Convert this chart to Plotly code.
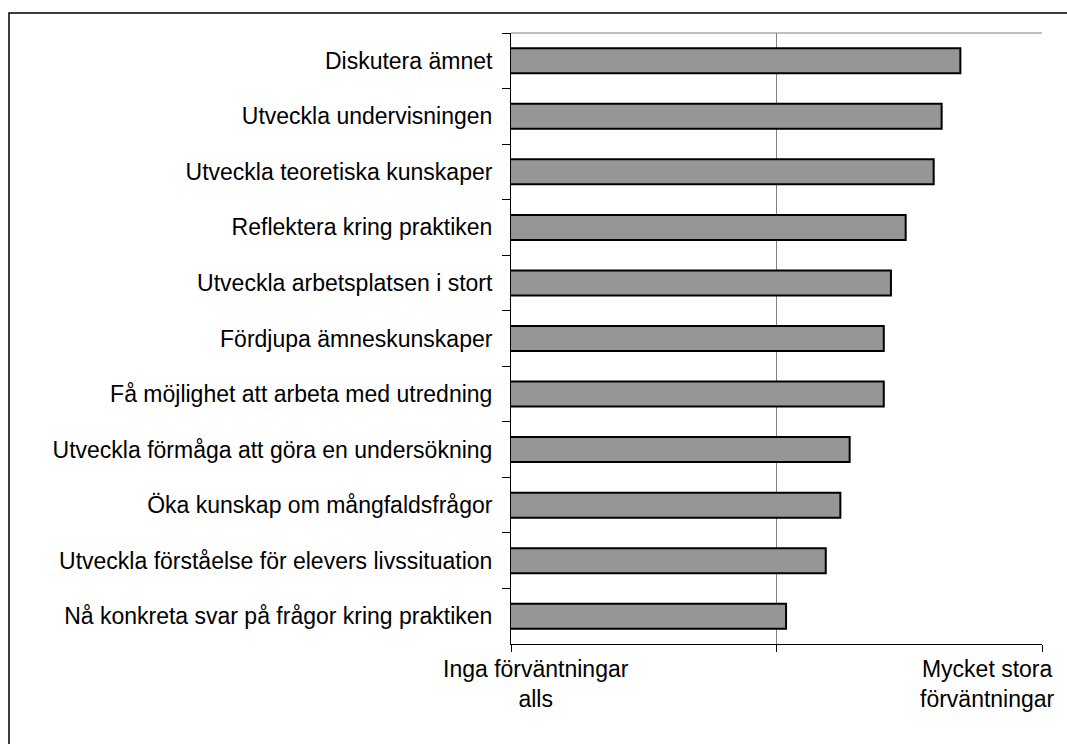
import plotly.graph_objects as go

categories = [
    "Diskutera ämnet",
    "Utveckla undervisningen",
    "Utveckla teoretiska kunskaper",
    "Reflektera kring praktiken",
    "Utveckla arbetsplatsen i stort",
    "Fördjupa ämneskunskaper",
    "Få möjlighet att arbeta med utredning",
    "Utveckla förmåga att göra en undersökning",
    "Öka kunskap om mångfaldsfrågor",
    "Utveckla förståelse för elevers livssituation",
    "Nå konkreta svar på frågor kring praktiken",
]
values = [4.385, 4.244, 4.184, 3.973, 3.862, 3.808, 3.808, 3.551, 3.481, 3.371, 3.072]

x_ticks = [1, 3, 5]
low_label = "Inga förväntningar<br>alls"
high_label = "Mycket stora<br>förväntningar"

FONT = "Liberation Sans, Arial, sans-serif"
FS = 23

fig = go.Figure(
    go.Bar(
        y=categories,
        x=values,
        orientation="h",
        marker=dict(color="#969696", line=dict(color="#000000", width=2)),
        hoverinfo="x+y",
    )
)

fig.update_layout(
    width=1067,
    height=744,
    margin=dict(l=511, r=25, t=33, b=100),
    paper_bgcolor="white",
    plot_bgcolor="white",
    bargap=0.55,
    showlegend=False,
    font=dict(family=FONT, size=FS, color="#000000"),
    xaxis=dict(
        range=[1, 5],
        tickvals=x_ticks,
        showticklabels=False,
        ticks="outside",
        ticklen=7,
        tickcolor="#000000",
        showline=True,
        linecolor="#000000",
        linewidth=1,
        showgrid=True,
        gridcolor="#808080",
        gridwidth=1,
        zeroline=False,
        fixedrange=True,
    ),
    yaxis=dict(
        autorange="reversed",
        ticks="outside",
        tickson="boundaries",
        ticklen=8,
        tickcolor="#000000",
        showline=True,
        linecolor="#000000",
        linewidth=1,
        showgrid=False,
        ticklabelstandoff=13,
        tickfont=dict(family=FONT, size=FS, color="#000000"),
        fixedrange=True,
    ),
    shapes=[
        dict(type="line", xref="paper", yref="paper", x0=0, x1=1, y0=1, y1=1,
             line=dict(color="#808080", width=1)),
        dict(type="rect", xref="paper", yref="paper",
             x0=-0.9454, x1=1.06, y0=-0.2, y1=1.0327,
             line=dict(color="#000000", width=1.5), fillcolor="rgba(0,0,0,0)", layer="below"),
    ],
    annotations=[
        dict(text=low_label, xref="paper", yref="paper", x=0.047, y=0,
             xanchor="center", yanchor="top", yshift=-10, showarrow=False,
             font=dict(family=FONT, size=FS, color="#000000")),
        dict(text=high_label, xref="paper", yref="paper", x=0.898, y=0,
             xanchor="center", yanchor="top", yshift=-10, showarrow=False,
             font=dict(family=FONT, size=FS, color="#000000")),
    ],
)

fig.write_html(
    "out.html",
    config={"displayModeBar": False},
    post_script="document.body.style.margin='0';",
)
